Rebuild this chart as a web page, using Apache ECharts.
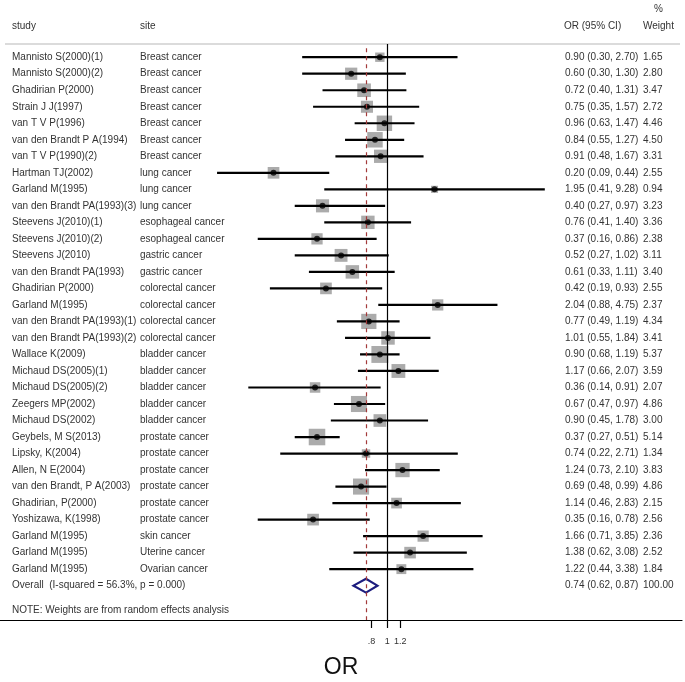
<!DOCTYPE html>
<html><head><meta charset="utf-8">
<script src="https://cdn.jsdelivr.net/npm/echarts@6/dist/echarts.min.js"></script>
<style>html,body{margin:0;padding:0;background:#fff}#c{width:685px;height:682px}</style>
</head><body><div id="c"></div>
<script>
const studies = [
  'Mannisto S(2000)(1)','Mannisto S(2000)(2)','Ghadirian P(2000)','Strain J J(1997)','van T V P(1996)',
  'van den Brandt P A(1994)','van T V P(1990)(2)','Hartman TJ(2002)','Garland M(1995)','van den Brandt PA(1993)(3)',
  'Steevens J(2010)(1)','Steevens J(2010)(2)','Steevens J(2010)','van den Brandt PA(1993)','Ghadirian P(2000)',
  'Garland M(1995)','van den Brandt PA(1993)(1)','van den Brandt PA(1993)(2)','Wallace K(2009)','Michaud DS(2005)(1)',
  'Michaud DS(2005)(2)','Zeegers MP(2002)','Michaud DS(2002)','Geybels, M S(2013)','Lipsky, K(2004)',
  'Allen, N E(2004)','van den Brandt, P A(2003)','Ghadirian, P(2000)','Yoshizawa, K(1998)','Garland M(1995)',
  'Garland M(1995)','Garland M(1995)'
];
const sites = [
  'Breast cancer','Breast cancer','Breast cancer','Breast cancer','Breast cancer',
  'Breast cancer','Breast cancer','lung cancer','lung cancer','lung cancer',
  'esophageal cancer','esophageal cancer','gastric cancer','gastric cancer','colorectal cancer',
  'colorectal cancer','colorectal cancer','colorectal cancer','bladder cancer','bladder cancer',
  'bladder cancer','bladder cancer','bladder cancer','prostate cancer','prostate cancer',
  'prostate cancer','prostate cancer','prostate cancer','prostate cancer','skin cancer',
  'Uterine cancer','Ovarian cancer'
];
const orValues = [0.90,0.60,0.72,0.75,0.96,0.84,0.91,0.20,1.95,0.40,0.76,0.37,0.52,0.61,0.42,2.04,0.77,1.01,0.90,1.17,0.36,0.67,0.90,0.37,0.74,1.24,0.69,1.14,0.35,1.66,1.38,1.22];
const ciLower  = [0.30,0.30,0.40,0.35,0.63,0.55,0.48,0.09,0.41,0.27,0.41,0.16,0.27,0.33,0.19,0.88,0.49,0.55,0.68,0.66,0.14,0.47,0.45,0.27,0.22,0.73,0.48,0.46,0.16,0.71,0.62,0.44];
const ciUpper  = [2.70,1.30,1.31,1.57,1.47,1.27,1.67,0.44,9.28,0.97,1.40,0.86,1.02,1.11,0.93,4.75,1.19,1.84,1.19,2.07,0.91,0.97,1.78,0.51,2.71,2.10,0.99,2.83,0.78,3.85,3.08,3.38];
const weights  = [1.65,2.80,3.47,2.72,4.46,4.50,3.31,2.55,0.94,3.23,3.36,2.38,3.11,3.40,2.55,2.37,4.34,3.41,5.37,3.59,2.07,4.86,3.00,5.14,1.34,3.83,4.86,2.15,2.56,2.36,2.52,1.84];

const overallLabel = 'Overall  (I-squared = 56.3%, p = 0.000)';
const overallOR = 0.74, overallLower = 0.62, overallUpper = 0.87, overallWeight = 100.00;
const noteText = 'NOTE: Weights are from random effects analysis';
const headers = ['study','site','OR (95% CI)','Weight','%'];
const tickValues = [0.8, 1, 1.2];
const tickLabels = ['.8', '1', '1.2'];
const axisTitle = 'OR';

// layout
const FONT = '"Liberation Sans", Arial, sans-serif';
const TXT = '#333';
const X_ONE = 387.3, PX_LN = 70.7, GRID_W = 682;
const xMin = Math.exp((0 - X_ONE) / PX_LN), xMax = Math.exp((GRID_W - X_ONE) / PX_LN);
const ROW_TOP = -0.8, ROW_BOTTOM = 34.08;
const COL = {study: 12, site: 140, ci: 565, weight: 643};
const n = studies.length;
const overallRow = n, noteRow = n + 1.5;

const f2 = v => v.toFixed(2);
const textRows = [];
for (let i = 0; i < n; i++) {
  textRows.push([COL.study, i, studies[i]]);
  textRows.push([COL.site, i, sites[i]]);
  textRows.push([COL.ci, i, f2(orValues[i]) + ' (' + f2(ciLower[i]) + ', ' + f2(ciUpper[i]) + ')']);
  textRows.push([COL.weight, i, f2(weights[i])]);
}
textRows.push([COL.study, overallRow, overallLabel]);
textRows.push([COL.ci, overallRow, f2(overallOR) + ' (' + f2(overallLower) + ', ' + f2(overallUpper) + ')']);
textRows.push([COL.weight, overallRow, f2(overallWeight)]);
textRows.push([COL.study, noteRow, noteText]);

const chart = echarts.init(document.getElementById('c'), null, {renderer: 'canvas'});
const hdrStyle = {fill: TXT, font: '10px ' + FONT, textVerticalAlign: 'middle'};
chart.setOption({
  animation: false,
  backgroundColor: '#fff',
  grid: {left: 0, top: 44, width: GRID_W, height: 576, containLabel: false, outerBoundsMode: 'none'},
  xAxis: [{
    type: 'log', logBase: 10, min: xMin, max: xMax, gridIndex: 0, position: 'bottom',
    axisLine: {show: true, onZero: false, lineStyle: {color: '#000', width: 1.2}},
    axisTick: {show: true, customValues: tickValues, length: 8, lineStyle: {color: '#000', width: 1.2}},
    axisLabel: {show: true, customValues: tickValues, margin: 17, fontSize: 9, color: TXT, fontFamily: FONT,
      formatter: v => { const k = tickValues.findIndex(t => Math.abs(t - v) < 1e-6); return k >= 0 ? tickLabels[k] : ''; }},
    splitLine: {show: false}, minorTick: {show: false}, minorSplitLine: {show: false},
    name: axisTitle, nameLocation: 'middle', nameGap: 36,
    nameTextStyle: {fontSize: 23, color: '#111', fontFamily: FONT}
  }, {
    type: 'value', min: 0, max: GRID_W, gridIndex: 0, show: false
  }],
  yAxis: [{type: 'value', inverse: true, min: ROW_TOP, max: ROW_BOTTOM, show: false, gridIndex: 0}],
  graphic: [
    {type: 'line', shape: {x1: 5, y1: 44, x2: 680, y2: 44}, style: {stroke: '#cfcfcf', lineWidth: 1.5}, z: 1},
    {type: 'text', x: COL.study, y: 26, style: Object.assign({text: headers[0]}, hdrStyle)},
    {type: 'text', x: COL.site, y: 26, style: Object.assign({text: headers[1]}, hdrStyle)},
    {type: 'text', x: COL.ci - 1, y: 26, style: Object.assign({text: headers[2]}, hdrStyle)},
    {type: 'text', x: COL.weight, y: 26, style: Object.assign({text: headers[3]}, hdrStyle)},
    {type: 'text', x: COL.weight + 11, y: 9, style: Object.assign({text: headers[4]}, hdrStyle)}
  ],
  series: [
    {
      type: 'scatter', name: 'weight box', xAxisIndex: 0, yAxisIndex: 0,
      data: orValues.map((v, i) => [v, i, weights[i]]),
      symbol: 'rect', symbolSize: d => 7.3 * Math.sqrt(d[2]),
      itemStyle: {color: '#ababab', opacity: 1}, z: 2,
      markLine: {
        silent: true, symbol: 'none', label: {show: false},
        data: [
          {xAxis: 1, lineStyle: {color: '#000', width: 1.2, type: 'solid'}},
          [{coord: [overallOR, -0.55], lineStyle: {color: '#a33a3a', width: 1.2, type: [4, 4]}}, {coord: [overallOR, ROW_BOTTOM]}]
        ]
      }
    },
    {
      type: 'custom', name: 'CI', xAxisIndex: 0, yAxisIndex: 0, z: 3,
      data: ciLower.map((lo, i) => [lo, ciUpper[i], i]),
      encode: {x: [0, 1], y: 2},
      renderItem: (params, api) => {
        const a = api.coord([api.value(0), api.value(2)]);
        const b = api.coord([api.value(1), api.value(2)]);
        return {type: 'line', shape: {x1: a[0], y1: a[1], x2: b[0], y2: b[1]}, style: {stroke: '#000', lineWidth: 2.2}};
      }
    },
    {
      type: 'scatter', name: 'point', xAxisIndex: 0, yAxisIndex: 0, z: 4,
      data: orValues.map((v, i) => [v, i]),
      symbol: 'circle', symbolSize: 6, itemStyle: {color: '#000'}
    },
    {
      type: 'custom', name: 'overall', xAxisIndex: 0, yAxisIndex: 0, z: 4,
      data: [[overallLower, overallOR, overallUpper, overallRow]],
      encode: {x: [0, 2], y: 3},
      renderItem: (params, api) => {
        const y = api.value(3), h = 0.42;
        const p1 = api.coord([api.value(0), y]);
        const p2 = api.coord([api.value(1), y - h]);
        const p3 = api.coord([api.value(2), y]);
        const p4 = api.coord([api.value(1), y + h]);
        return {type: 'polygon', shape: {points: [p1, p2, p3, p4]}, style: {fill: 'none', stroke: '#1c1c7e', lineWidth: 2.2}};
      }
    },
    {
      type: 'custom', name: 'text', xAxisIndex: 1, yAxisIndex: 0, z: 5,
      data: textRows,
      renderItem: (params, api) => {
        const p = api.coord([api.value(0), api.value(1)]);
        return {type: 'text', x: p[0], y: p[1],
          style: {text: textRows[params.dataIndex][2], fill: TXT, font: '10px ' + FONT, textVerticalAlign: 'middle', textAlign: 'left'}};
      }
    }
  ]
});
</script></body></html>
